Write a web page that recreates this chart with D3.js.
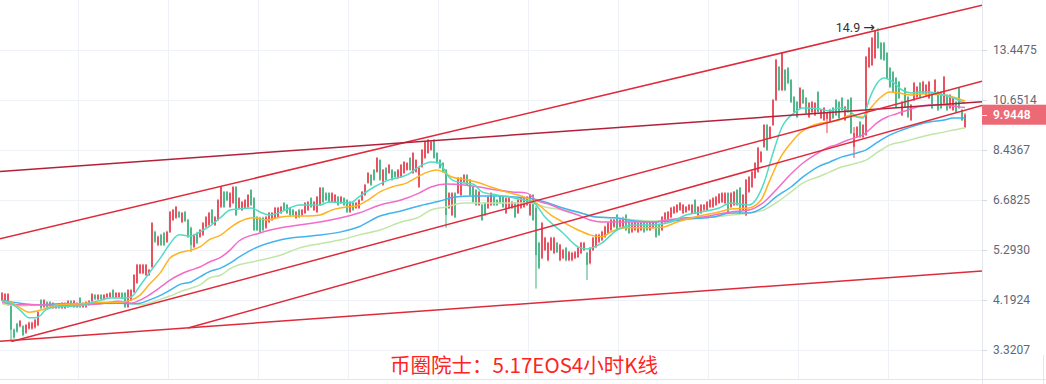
<!DOCTYPE html>
<html><head><meta charset="utf-8">
<script src="https://cdn.jsdelivr.net/npm/d3@7"></script>
<style>html,body{margin:0;padding:0;background:#fff;overflow:hidden}</style>
</head><body><svg id="c" width="1046" height="384"></svg>
<script>
// ---------------- data ----------------
const yTicks = [13.4475, 10.6514, 8.4367, 6.6825, 5.2930, 4.1924, 3.3207];
const timeGrid = [25.33, 55.33, 85.33, 115.33, 145.33, 175.33, 205.33, 235.33, 265.33, 295.33];
const lastPrice = 9.9448;
const peakIdx = 292, peakPrice = 14.9, peakLabel = "14.9", peakArrow = "\u2192";
const title = "币圈院士：5.17EOS4小时K线";

// [open, high, low, close] per 4h candle
const ohlc = [
[4.19,4.35,4.17,4.33],[4.15,4.33,4.13,4.31],[4.10,4.33,4.08,4.31],[4.10,4.17,3.45,3.65],[3.65,3.67,3.50,3.52],
[3.75,3.77,3.60,3.62],[3.71,3.82,3.69,3.80],[3.71,3.73,3.54,3.56],[3.60,3.75,3.58,3.73],[3.67,3.79,3.65,3.77],
[3.67,3.79,3.65,3.77],[3.69,3.84,3.67,3.82],[3.73,3.98,3.71,3.96],[4.19,4.21,4.02,4.04],[4.06,4.21,4.04,4.19],
[4.15,4.17,4.04,4.06],[4.15,4.17,4.04,4.06],[4.04,4.15,4.02,4.13],[4.04,4.12,4.02,4.10],[4.08,4.10,4.02,4.04],
[4.04,4.15,4.02,4.13],[4.04,4.15,4.02,4.13],[4.06,4.19,4.04,4.17],[4.17,4.19,4.06,4.08],[4.06,4.19,4.04,4.17],
[4.06,4.15,4.04,4.13],[4.23,4.25,4.04,4.06],[4.06,4.15,4.04,4.13],[4.06,4.17,4.04,4.15],[4.10,4.19,4.08,4.17],
[4.17,4.33,4.15,4.31],[4.29,4.31,4.19,4.21],[4.21,4.31,4.19,4.29],[4.29,4.31,4.19,4.21],[4.21,4.31,4.19,4.29],
[4.25,4.33,4.23,4.31],[4.25,4.35,4.23,4.33],[4.39,4.41,4.23,4.25],[4.25,4.35,4.23,4.33],[4.25,4.35,4.23,4.33],
[4.33,4.35,4.21,4.23],[4.33,4.35,4.04,4.06],[4.06,4.41,4.04,4.39],[4.19,4.41,4.17,4.39],[4.35,4.73,4.33,4.71],
[4.54,4.96,4.52,4.94],[4.75,4.96,4.73,4.94],[4.75,4.96,4.73,4.94],[4.71,4.96,4.69,4.94],[4.71,4.85,4.69,4.82],
[4.89,6.03,4.87,6.00],[5.76,5.79,5.47,5.50],[5.42,5.66,5.39,5.63],[5.68,5.71,5.39,5.42],[5.73,5.76,5.39,5.42],
[5.50,5.79,5.47,5.76],[5.76,6.35,5.73,6.32],[6.09,6.41,6.06,6.38],[6.15,6.50,6.12,6.47],[6.32,6.35,6.14,6.17],
[6.03,6.32,6.00,6.29],[6.32,6.35,6.03,6.06],[6.09,6.12,5.60,5.63],[5.87,5.90,5.24,5.42],[5.37,5.71,5.34,5.68],
[5.73,5.76,5.44,5.47],[5.63,5.84,5.60,5.81],[5.68,6.03,5.65,6.00],[5.90,6.20,5.87,6.17],[5.95,6.32,5.92,6.29],
[6.38,6.41,5.97,6.00],[5.95,6.20,5.92,6.17],[6.09,6.71,6.06,6.68],[6.47,7.13,6.44,7.10],[6.94,6.97,6.44,6.47],
[6.94,6.97,6.65,6.68],[6.47,6.93,6.44,6.90],[6.59,7.13,6.56,7.10],[7.10,7.13,6.20,6.23],[6.44,6.77,6.41,6.74],
[6.38,6.65,6.35,6.62],[6.44,6.71,6.41,6.68],[6.47,6.87,6.44,6.84],[7.00,7.03,6.50,6.53],[6.74,6.77,5.78,5.81],
[6.17,6.20,5.78,5.81],[6.15,6.18,5.73,5.76],[6.15,6.18,5.78,5.81],[5.87,6.20,5.84,6.17],[6.03,6.32,6.00,6.29],
[6.09,6.32,6.06,6.29],[6.15,6.47,6.12,6.44],[6.17,6.47,6.14,6.44],[6.29,6.50,6.26,6.47],[6.59,6.62,6.35,6.38],
[6.53,6.56,6.26,6.29],[6.44,6.47,6.20,6.23],[6.38,6.41,6.20,6.23],[6.15,6.35,6.12,6.32],[6.38,6.41,6.14,6.17],
[6.23,6.41,6.20,6.38],[6.29,6.62,6.26,6.59],[6.38,6.65,6.35,6.62],[6.74,6.77,6.44,6.47],[6.38,6.65,6.35,6.62],
[6.32,6.81,6.29,6.78],[6.53,7.10,6.50,7.07],[7.07,7.10,6.59,6.62],[6.90,6.93,6.65,6.68],[6.90,6.93,6.59,6.62],
[6.62,6.93,6.59,6.90],[6.62,6.87,6.59,6.84],[6.78,6.81,6.50,6.53],[6.59,6.81,6.56,6.78],[6.74,6.77,6.50,6.53],
[6.68,6.71,6.29,6.32],[6.32,6.65,6.29,6.62],[6.59,6.62,6.35,6.38],[6.44,6.62,6.41,6.59],[6.44,6.71,6.41,6.68],
[6.68,6.97,6.65,6.94],[6.84,7.20,6.81,7.17],[7.24,7.61,7.21,7.58],[7.51,7.54,7.14,7.17],[7.69,7.72,7.31,7.34],
[7.62,8.16,7.59,8.13],[8.05,8.08,7.31,7.34],[7.17,7.72,7.14,7.69],[7.76,7.79,7.31,7.34],[7.58,7.90,7.55,7.87],
[7.69,7.72,7.31,7.34],[7.62,7.65,7.41,7.44],[7.41,7.72,7.38,7.69],[7.44,7.90,7.41,7.87],[7.58,8.01,7.55,7.98],
[7.69,7.97,7.66,7.94],[8.13,8.16,7.66,7.69],[7.58,8.35,7.55,8.32],[7.62,8.08,7.59,8.05],[7.10,7.79,7.07,7.76],
[7.80,8.47,7.77,8.44],[8.13,8.80,8.10,8.76],[8.32,8.88,8.29,8.84],[8.44,8.80,8.41,8.76],[8.84,8.88,8.10,8.13],
[8.32,8.35,7.91,7.94],[8.05,8.08,7.73,7.76],[7.94,7.97,7.59,7.62],[7.69,7.72,5.87,6.23],[6.44,6.93,6.41,6.90],
[6.23,6.93,6.20,6.90],[6.90,6.93,6.14,6.17],[6.90,7.44,6.87,7.41],[6.84,7.44,6.81,7.41],[7.27,7.54,7.24,7.51],
[7.51,7.54,7.14,7.17],[7.34,7.37,6.81,6.84],[7.10,7.13,6.59,6.62],[7.00,7.03,6.50,6.53],[6.53,6.97,6.50,6.94],
[6.53,6.56,6.06,6.09],[6.59,6.62,6.20,6.23],[6.44,6.81,6.41,6.78],[6.53,6.93,6.50,6.90],[6.78,6.81,6.50,6.53],
[6.68,6.71,6.50,6.53],[6.78,6.81,6.56,6.59],[6.78,6.81,6.44,6.47],[6.29,6.77,6.26,6.74],[6.44,6.77,6.41,6.74],
[6.44,6.65,6.41,6.62],[6.59,6.62,6.14,6.17],[6.29,6.71,6.26,6.68],[6.44,6.77,6.41,6.74],[6.47,6.77,6.44,6.74],
[6.53,6.81,6.50,6.78],[6.23,6.87,6.20,6.84],[6.84,6.87,6.06,6.09],[6.44,6.50,4.42,5.17],[5.47,5.50,4.84,4.87],
[5.10,6.03,5.07,6.00],[5.29,5.63,5.27,5.60],[5.05,5.50,5.02,5.47],[5.29,5.63,5.27,5.60],[5.22,5.63,5.19,5.60],
[5.47,5.50,5.22,5.24],[5.05,5.45,5.02,5.42],[5.10,5.32,5.07,5.29],[5.34,5.37,5.02,5.05],[5.05,5.27,5.02,5.24],
[5.05,5.25,5.02,5.22],[5.10,5.27,5.07,5.24],[5.12,5.37,5.10,5.34],[5.22,5.50,5.19,5.47],[5.29,5.50,5.27,5.47],
[5.22,5.25,4.60,4.94],[4.98,5.37,4.95,5.34],[5.29,5.63,5.27,5.60],[5.37,5.71,5.34,5.68],[5.50,5.71,5.47,5.68],
[5.55,5.79,5.52,5.76],[5.63,5.93,5.60,5.90],[5.73,6.03,5.70,6.00],[5.81,6.12,5.78,6.09],[5.90,6.12,5.87,6.09],
[6.23,6.26,5.78,5.81],[5.90,6.12,5.87,6.09],[5.87,6.18,5.84,6.15],[6.23,6.26,5.78,5.81],[6.03,6.06,5.70,5.73],
[5.76,6.03,5.73,6.00],[5.81,6.06,5.78,6.03],[5.76,6.03,5.73,6.00],[5.81,6.03,5.78,6.00],[6.03,6.06,5.73,5.76],
[6.00,6.03,5.78,5.81],[5.81,6.03,5.78,6.00],[5.87,6.06,5.84,6.03],[6.03,6.06,5.60,5.63],[5.95,5.98,5.65,5.68],
[5.81,6.20,5.78,6.17],[6.03,6.32,6.00,6.29],[6.09,6.35,6.06,6.32],[6.17,6.47,6.14,6.44],[6.29,6.50,6.26,6.47],
[6.32,6.56,6.29,6.53],[6.38,6.62,6.35,6.59],[6.29,6.56,6.26,6.53],[6.32,6.50,6.29,6.47],[6.38,6.56,6.35,6.53],
[6.29,6.56,6.26,6.53],[6.68,6.71,6.26,6.29],[6.23,6.50,6.20,6.47],[6.29,6.56,6.26,6.53],[6.38,6.56,6.35,6.53],
[6.38,6.65,6.35,6.62],[6.47,6.71,6.44,6.68],[6.47,6.77,6.44,6.74],[6.53,6.81,6.50,6.78],[6.59,6.90,6.56,6.87],
[6.62,6.93,6.59,6.90],[6.59,6.93,6.56,6.90],[6.90,6.93,6.26,6.29],[6.47,6.93,6.44,6.90],[6.53,6.97,6.50,6.94],
[7.00,7.03,6.50,6.53],[7.07,7.10,6.26,6.29],[6.38,6.87,6.35,6.84],[6.23,7.37,6.20,7.34],[6.94,7.47,6.91,7.44],
[7.10,7.65,7.07,7.62],[7.41,7.97,7.38,7.94],[7.62,8.56,7.59,8.52],[7.98,8.40,7.95,8.36],[8.56,9.52,8.52,9.48],
[9.48,9.52,8.40,8.44],[8.92,9.43,8.88,9.39],[9.48,10.70,9.44,10.65],[10.65,12.90,10.60,12.84],[12.42,12.48,11.10,11.16],
[11.16,13.32,11.10,13.26],[12.25,12.31,11.10,11.16],[12.36,12.42,11.47,11.53],[11.69,11.75,10.50,10.55],[10.80,10.85,10.02,10.07],
[10.55,10.60,9.79,9.84],[10.26,11.31,10.21,11.26],[11.16,11.21,10.45,10.50],[10.75,10.80,9.97,10.02],[9.84,10.55,9.79,10.50],
[10.07,10.60,10.02,10.55],[9.93,10.55,9.88,10.50],[11.05,11.10,10.02,10.07],[9.79,10.22,9.75,10.17],[9.70,10.31,9.66,10.26],
[9.75,10.07,9.13,10.02],[9.61,10.22,9.57,10.17],[10.26,10.31,9.75,9.79],[10.65,10.70,9.88,9.93],[10.55,10.60,9.75,9.79],
[10.75,10.80,10.12,10.17],[9.70,10.36,9.66,10.31],[10.65,10.70,10.02,10.07],[10.75,10.80,9.09,9.13],[8.56,9.39,8.13,9.13],
[8.96,9.43,8.92,9.39],[9.61,9.66,8.92,8.96],[8.96,9.52,8.92,9.48],[9.05,13.08,9.01,13.02],[12.42,13.64,12.36,13.58],
[12.54,14.29,12.48,14.22],[12.96,14.75,12.90,14.70],[14.62,14.90,13.52,13.58],[13.90,13.96,12.84,12.90],[13.90,13.96,12.78,12.84],
[13.26,13.32,11.75,11.80],[12.36,12.42,11.26,11.32],[12.13,12.19,11.00,11.05],[11.80,11.86,10.26,10.31],[11.59,11.65,10.70,10.75],
[9.93,10.60,9.88,10.55],[11.26,11.31,10.26,10.31],[10.80,10.85,9.79,9.84],[9.70,10.45,9.66,10.41],[10.65,11.59,10.60,11.53],
[10.80,11.37,10.75,11.32],[11.53,11.59,10.75,10.80],[11.00,11.65,10.95,11.59],[10.90,11.47,10.85,11.42],[10.75,11.65,10.70,11.59],
[11.00,11.05,10.21,10.26],[11.05,11.75,11.00,11.69],[11.05,11.10,10.12,10.17],[11.05,11.10,10.21,10.26],[10.50,11.92,10.45,11.86],
[10.90,10.95,10.12,10.17],[10.26,10.95,10.21,10.90],[10.17,10.80,10.12,10.75],[10.55,10.60,10.02,10.07],[11.26,11.31,10.21,10.26],
[10.17,10.22,9.66,9.70],[9.39,10.02,9.35,9.9448]
];

// moving averages, read at sampled candle indices: [index, value]
const maA = [[0,4.17],[3,4.13],[6,4.00],[9,3.86],[11,3.86],[13,3.91],[14,3.98],[16,4.04],[19,4.06],[26,4.08],[29,4.13],[33,4.19],[36,4.23],[41,4.23],[43,4.25],[46,4.48],[49,4.75],[53,5.12],[56,5.45],[59,5.68],[63,5.65],[66,5.76],[69,5.90],[73,6.17],[76,6.38],[79,6.41],[83,6.44],[86,6.32],[89,6.23],[93,6.32],[96,6.44],[99,6.53],[106,6.53],[109,6.62],[116,6.59],[119,6.78],[124,7.10],[129,7.34],[135,7.51],[139,7.80],[143,7.98],[146,7.94],[148,7.58],[150,7.34],[153,7.24],[157,7.20],[160,6.94],[165,6.84],[169,6.78],[174,6.68],[177,6.62],[181,6.17],[187,5.73],[192,5.37],[195,5.32],[200,5.47],[205,5.81],[211,5.95],[217,5.95],[223,6.03],[228,6.23],[233,6.32],[239,6.44],[243,6.59],[249,6.53],[254,7.24],[257,8.32],[260,9.39],[264,10.02],[267,10.26],[272,10.22],[276,10.12],[279,10.26],[283,10.07],[285,9.84],[287,9.79],[289,10.65],[292,11.58],[294,11.80],[297,11.58],[300,11.16],[303,11.00],[306,11.05],[309,11.05],[314,10.90],[317,10.75],[321,10.50]];
const maB = [[0,4.17],[3,4.15],[6,4.04],[9,3.96],[13,4.00],[16,4.06],[19,4.10],[26,4.12],[33,4.15],[39,4.15],[43,4.19],[46,4.29],[49,4.50],[53,4.78],[56,5.10],[59,5.22],[63,5.29],[66,5.37],[69,5.55],[73,5.68],[76,5.87],[79,6.03],[84,6.15],[88,6.09],[93,6.17],[97,6.20],[102,6.20],[106,6.23],[110,6.38],[115,6.47],[118,6.50],[122,6.68],[126,6.94],[130,7.10],[135,7.24],[138,7.41],[142,7.62],[145,7.69],[147,7.62],[150,7.44],[155,7.34],[159,7.24],[163,7.10],[168,6.94],[174,6.78],[178,6.59],[183,6.23],[187,6.03],[192,5.81],[196,5.68],[200,5.63],[203,5.76],[208,5.87],[212,5.87],[217,5.87],[221,5.90],[225,6.03],[230,6.15],[234,6.23],[239,6.32],[243,6.41],[249,6.44],[253,6.68],[256,7.34],[259,8.05],[263,8.72],[266,9.13],[269,9.39],[273,9.57],[276,9.61],[279,9.70],[283,9.93],[285,9.84],[287,9.84],[289,10.17],[293,10.80],[296,11.05],[299,11.00],[303,10.90],[306,10.95],[309,10.95],[314,10.90],[317,10.80],[321,10.60]];
const maC = [[0,4.15],[6,4.10],[13,4.10],[19,4.08],[26,4.10],[33,4.12],[39,4.17],[43,4.13],[46,4.19],[49,4.29],[53,4.46],[56,4.60],[59,4.71],[63,4.82],[66,4.89],[69,5.00],[73,5.12],[76,5.29],[79,5.52],[86,5.73],[93,5.87],[99,5.95],[106,6.03],[113,6.15],[119,6.29],[126,6.53],[133,6.68],[139,6.90],[143,7.10],[148,7.20],[154,7.17],[159,7.10],[165,7.00],[170,6.94],[175,6.90],[178,6.68],[183,6.53],[187,6.38],[192,6.23],[196,6.09],[200,6.03],[205,6.03],[211,6.03],[217,6.03],[222,6.09],[228,6.15],[233,6.17],[239,6.26],[243,6.32],[249,6.38],[254,6.62],[258,7.00],[262,7.44],[267,7.94],[272,8.32],[275,8.52],[278,8.64],[282,8.84],[285,8.96],[287,9.05],[289,9.26],[292,9.61],[295,9.84],[298,9.98],[302,10.17],[305,10.31],[309,10.41],[314,10.41],[317,10.36],[321,10.28]];
const maD = [[0,4.19],[6,4.13],[13,4.10],[19,4.12],[26,4.12],[33,4.13],[39,4.13],[43,4.12],[46,4.13],[49,4.19],[53,4.29],[56,4.39],[59,4.50],[63,4.56],[66,4.67],[69,4.78],[73,4.87],[76,4.98],[79,5.12],[83,5.29],[93,5.55],[103,5.65],[113,5.76],[119,5.90],[126,6.20],[133,6.35],[139,6.50],[146,6.65],[151,6.78],[157,6.81],[165,6.81],[171,6.78],[176,6.74],[181,6.62],[187,6.44],[193,6.29],[198,6.17],[204,6.15],[211,6.06],[217,6.03],[223,6.06],[230,6.12],[237,6.17],[243,6.29],[249,6.29],[254,6.47],[258,6.78],[263,7.10],[267,7.44],[272,7.80],[276,7.98],[280,8.17],[285,8.32],[288,8.44],[292,8.76],[296,9.05],[300,9.26],[305,9.48],[309,9.61],[314,9.70],[317,9.79],[321,9.79]];
const maE = [[0,4.12],[6,4.08],[13,4.10],[26,4.10],[33,4.12],[39,4.13],[43,4.13],[46,4.10],[49,4.13],[53,4.21],[56,4.27],[59,4.35],[63,4.43],[66,4.50],[69,4.64],[73,4.71],[76,4.85],[79,4.94],[83,5.00],[93,5.17],[99,5.34],[106,5.45],[113,5.55],[119,5.68],[126,5.81],[133,6.03],[139,6.17],[143,6.38],[148,6.47],[154,6.59],[159,6.59],[165,6.59],[171,6.59],[176,6.59],[181,6.47],[187,6.38],[193,6.29],[198,6.17],[204,6.15],[211,6.09],[217,6.06],[223,6.09],[230,6.15],[237,6.17],[243,6.23],[249,6.29],[254,6.38],[258,6.59],[263,6.94],[267,7.24],[272,7.44],[276,7.62],[280,7.80],[285,7.94],[288,8.05],[292,8.36],[296,8.64],[300,8.76],[305,8.92],[309,9.05],[314,9.17],[317,9.26],[321,9.35]];

// trend lines: two anchor points [index, price]; extended to the plot edges
const trendLines = [
  {a:[0,5.59],  b:[320,16.20], left:true,  dark:false},
  {a:[0,7.64],  b:[320,10.50], left:true,  dark:true},
  {a:[3.2,3.455], b:[320,11.34], left:false, dark:false},
  {a:[62,3.68], b:[320,10.11], left:false, dark:false},
  {a:[0,3.46],  b:[320,4.77],  left:true,  dark:false}
];

// ---------------- drawing ----------------
const W = 1046, H = 384, plotRight = 982, plotBottom = 379;
const svg = d3.select("#c");
const x = d3.scaleLinear().domain([0, 321]).range([2, 965]);
const y = d3.scaleLog().domain([3.3207, 13.4475]).range([350, 50]);

const RED = "#e6404f", GREEN = "#3fb17d";
const MA_COLORS = ["#c2e6a6", "#42b3ee", "#f36cc9", "#ffb321", "#52dcc3"];

svg.append("defs").append("clipPath").attr("id","plot")
  .append("rect").attr("x",0).attr("y",0).attr("width",plotRight).attr("height",plotBottom);

// grid
const grid = svg.append("g");
grid.selectAll("line.h").data(yTicks).enter().append("line")
  .attr("x1",0).attr("x2",plotRight)
  .attr("y1",d=>Math.round(y(d))+0.5).attr("y2",d=>Math.round(y(d))+0.5)
  .attr("stroke","#eef1f6").attr("stroke-width",1);
grid.selectAll("line.v").data(timeGrid).enter().append("line")
  .attr("x1",d=>Math.round(x(d))+0.5).attr("x2",d=>Math.round(x(d))+0.5)
  .attr("y1",0).attr("y2",plotBottom)
  .attr("stroke","#eef1f6").attr("stroke-width",1);
svg.append("line").attr("x1",0).attr("x2",W).attr("y1",plotBottom+0.5).attr("y2",plotBottom+0.5)
  .attr("stroke","#e3e6ec");

const plot = svg.append("g").attr("clip-path","url(#plot)");

// candles
const cg = plot.append("g");
ohlc.forEach((d,i)=>{
  const [o,h,l,c] = d;
  const col = c >= o ? RED : GREEN;
  const cx = x(i);
  cg.append("rect").attr("x",cx-0.5).attr("width",1)
    .attr("y",y(h)).attr("height",Math.max(1,y(l)-y(h))).attr("fill",col);
  const top = y(Math.max(o,c)), bot = y(Math.min(o,c));
  cg.append("rect").attr("x",cx-0.8).attr("width",1.6)
    .attr("y",top).attr("height",Math.max(1,bot-top)).attr("fill",col);
});

// moving averages
const line = d3.line().x(d=>x(d[0])).y(d=>y(d[1])).curve(d3.curveMonotoneX);
[maE, maD, maC, maB, maA].forEach((s,k)=>{
  plot.append("path").attr("d",line(s)).attr("fill","none")
    .attr("stroke",MA_COLORS[k]).attr("stroke-width",1.5);
});

// trend lines
trendLines.forEach(t=>{
  const x1 = x(t.a[0]), y1 = y(t.a[1]), x2 = x(t.b[0]), y2 = y(t.b[1]);
  const m = (y2-y1)/(x2-x1);
  const xs = t.left ? 0 : x1, xe = plotRight;
  plot.append("line")
    .attr("x1",xs).attr("y1",y1+m*(xs-x1))
    .attr("x2",xe).attr("y2",y1+m*(xe-x1))
    .attr("stroke", t.dark ? "#b3203a" : "#de2b3c")
    .attr("stroke-width",1.5);
});

// peak annotation
const pt = svg.append("text").attr("x",x(peakIdx)-3).attr("y",y(peakPrice)+4)
  .attr("text-anchor","end").attr("font-family","Roboto, Arial, sans-serif")
  .attr("font-size",12.5).attr("fill","#333");
pt.append("tspan").text(peakLabel + " ");
pt.append("tspan").attr("font-family","'DejaVu Sans', sans-serif").attr("font-size",14).text(peakArrow);

// right axis
svg.append("line").attr("x1",plotRight+0.5).attr("x2",plotRight+0.5).attr("y1",0).attr("y2",H)
  .attr("stroke","#e3e6ec");
const axis = d3.axisRight(y).tickValues(yTicks).tickFormat(d=>d.toFixed(4)).tickSize(5).tickPadding(6);
const ag = svg.append("g").attr("transform",`translate(${plotRight},0)`).call(axis);
ag.select(".domain").remove();
ag.selectAll(".tick line").attr("stroke","#d5d9e0");
ag.selectAll(".tick text").attr("fill","#5f6876").attr("font-size",12)
  .attr("font-family","Roboto, Arial, sans-serif");
svg.append("line").attr("x1",1043.5).attr("x2",1043.5).attr("y1",355).attr("y2",H).attr("stroke","#e3e6ec");

// last price label
const ly = y(lastPrice);
svg.append("rect").attr("x",plotRight).attr("y",ly-10).attr("width",W-plotRight).attr("height",20)
  .attr("fill","#ec6a75");
svg.append("line").attr("x1",plotRight).attr("x2",plotRight+5).attr("y1",Math.round(ly)+0.5).attr("y2",Math.round(ly)+0.5)
  .attr("stroke","#fff");
svg.append("text").attr("x",plotRight+11).attr("y",ly+4.5)
  .attr("font-family","Roboto, Arial, sans-serif").attr("font-size",12).attr("font-weight",600)
  .attr("fill","#fff").text(lastPrice.toFixed(4));

// title
svg.append("text").attr("x",524).attr("y",373).attr("text-anchor","middle")
  .attr("font-family","'Noto Sans CJK SC', 'Noto Sans', sans-serif").attr("font-size",20.5)
  .attr("fill","#ff2323").text(title);
</script>
</body></html>
